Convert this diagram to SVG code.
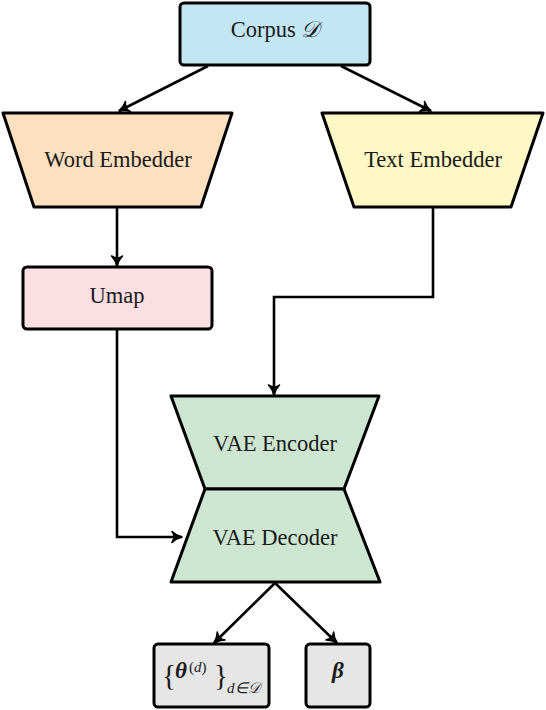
<svg xmlns="http://www.w3.org/2000/svg" width="546" height="710" viewBox="0 0 546 710" font-family="'Liberation Serif', 'Times New Roman', serif">
<style>
.n{stroke:#000;stroke-width:3;stroke-linejoin:round}
.t{font-size:22.5px;fill:#1a1a1a;text-anchor:middle}
.c{fill:none;stroke:#000;stroke-width:2.6;stroke-linejoin:miter}
.m{fill:#1a1a1a}
</style>
<defs>
<marker id="ar" markerUnits="userSpaceOnUse" markerWidth="14" markerHeight="14" refX="12" refY="7" orient="auto" viewBox="0 0 14 14">
<path d="M12,7 Q6,5.5 2,1.5 Q6,6 2,12.5 Q6,8.5 12,7 Z" fill="#000" stroke="#000" stroke-width="1.6" stroke-linejoin="round"/>
</marker>
</defs>
<g id="connectors">
<path class="c" d="M208,66 L119,111" marker-end="url(#ar)"/>
<path class="c" d="M341,66 L431,111" marker-end="url(#ar)"/>
<path class="c" d="M117,207 L117,266" marker-end="url(#ar)"/>
<path class="c" d="M433,207 L433,297 L274,297 L274,395" marker-end="url(#ar)"/>
<path class="c" d="M117,329 L117,537 L182,537" marker-end="url(#ar)"/>
<path class="c" d="M275,583 L214,643" marker-end="url(#ar)"/>
<path class="c" d="M275,583 L337,643" marker-end="url(#ar)"/>
</g>
<g id="corpus">
<rect class="n" x="180" y="3" width="190" height="62" rx="4" fill="#c3e6f5"/>
<text class="t" x="275" y="37">Corpus <tspan font-style="italic">𝒟</tspan></text>
</g>
<g id="word-embedder">
<polygon class="n" points="3,113 232,113 201,207 34,207" fill="#fde0bf"/>
<text class="t" x="118" y="167">Word Embedder</text>
</g>
<g id="text-embedder">
<polygon class="n" points="322,113 543,113 511,207 354,207" fill="#fef8c4"/>
<text class="t" x="433" y="167">Text Embedder</text>
</g>
<g id="umap">
<rect class="n" x="23" y="267" width="189" height="62" rx="4" fill="#fbdfe2"/>
<text class="t" x="117" y="303">Umap</text>
</g>
<g id="vae-encoder">
<polygon class="n" points="171,396 379,396 344,489 205,489" fill="#cde6d2"/>
<text class="t" x="275" y="451">VAE Encoder</text>
</g>
<g id="vae-decoder">
<polygon class="n" points="205,489 344,489 380,582 171,582" fill="#cde6d2"/>
<text class="t" x="275" y="545">VAE Decoder</text>
</g>
<g id="theta">
<rect class="n" x="154" y="644" width="115" height="63" rx="4" fill="#e6e6e6"/>
<text class="m" x="162" y="685" font-size="29">{</text>
<text class="m" x="175" y="678" font-size="23" font-style="italic" font-weight="bold">θ</text>
<text class="m" x="189" y="672" font-size="15">(<tspan font-style="italic">d</tspan>)</text>
<text class="m" x="214" y="685" font-size="29">}</text>
<text class="m" x="227" y="693" font-size="15" font-style="italic">d∈𝒟</text>
</g>
<g id="beta">
<rect class="n" x="306" y="644" width="64" height="63" rx="4" fill="#e6e6e6"/>
<text class="m" x="338" y="678" font-size="23" font-style="italic" font-weight="bold" text-anchor="middle">β</text>
</g>
</svg>
